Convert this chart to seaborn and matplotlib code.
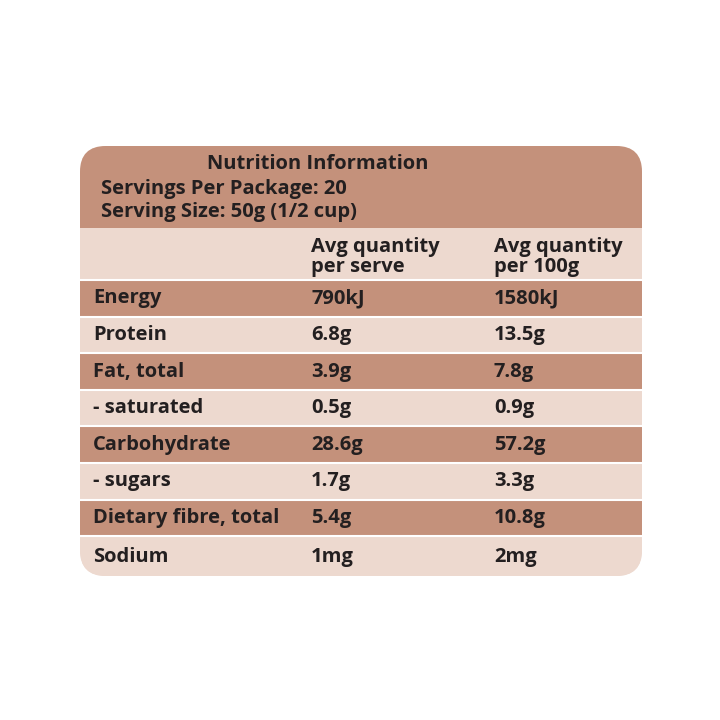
import matplotlib.pyplot as plt
import seaborn as sns
import pandas as pd
from matplotlib.patches import FancyBboxPatch

sns.set_theme(style="white")
plt.rcParams['font.family'] = ['Open Sans', 'DejaVu Sans']

title = "Nutrition Information"
servings = "Servings Per Package: 20"
serving_size = "Serving Size: 50g (1/2 cup)"
col_heads = ["Avg quantity\nper serve", "Avg quantity\nper 100g"]
nutrients = ["Energy", "Protein", "Fat, total", "- saturated", "Carbohydrate",
             "- sugars", "Dietary fibre, total", "Sodium"]
per_serve = ["790kJ", "6.8g", "3.9g", "0.5g", "28.6g", "1.7g", "5.4g", "1mg"]
per_100g = ["1580kJ", "13.5g", "7.8g", "0.9g", "57.2g", "3.3g", "10.8g", "2mg"]

brown = "#C4917B"
light = "#EDD9CF"

fig = plt.figure(figsize=(7.2, 7.2), dpi=100)
ax = fig.add_axes([0, 0, 1, 1])
ax.set_xlim(0, 720)
ax.set_ylim(720, 0)
ax.axis("off")

# rounded outline used as clip
outline = FancyBboxPatch((80, 146), 562, 430, boxstyle="round,pad=0,rounding_size=26",
                         facecolor=light, edgecolor="none")
ax.add_patch(outline)

# bands: header block, column header row, then nutrient rows
tops = [146, 228] + [280 + 36.6 * i for i in range(len(nutrients))]
bottoms = tops[1:] + [577]
colors = [brown, light] + [brown if i % 2 == 0 else light for i in range(len(nutrients))]
bands = pd.DataFrame({"y": [(t + b) / 2 for t, b in zip(tops, bottoms)],
                      "h": [b - t for t, b in zip(tops, bottoms)], "c": colors})
bars = ax.barh(bands["y"], 562, left=80, height=bands["h"], color=bands["c"], linewidth=0)
for b in bars:
    b.set_clip_path(outline)
# thin white separators between rows
for t in tops[2:]:
    ax.plot([80, 642], [t, t], color="white", lw=1.5, clip_path=outline)

fs = 14.5
kw = dict(fontsize=fs, fontweight="bold", color="#231f20", va="center")
ax.text(318, 164, title, ha="center", **kw)
ax.text(101, 189, servings, ha="left", **kw)
ax.text(101, 212, serving_size, ha="left", **kw)
ax.text(311, 257, col_heads[0], ha="left", linespacing=1.0, **kw)
ax.text(494, 257, col_heads[1], ha="left", linespacing=1.0, **kw)
for i, (n, a, b) in enumerate(zip(nutrients, per_serve, per_100g)):
    y = bands["y"][i + 2]
    ax.text(93, y, n, ha="left", **kw)
    ax.text(311, y, a, ha="left", **kw)
    ax.text(494, y, b, ha="left", **kw)

fig.savefig("out.png", dpi=100, facecolor="white")
